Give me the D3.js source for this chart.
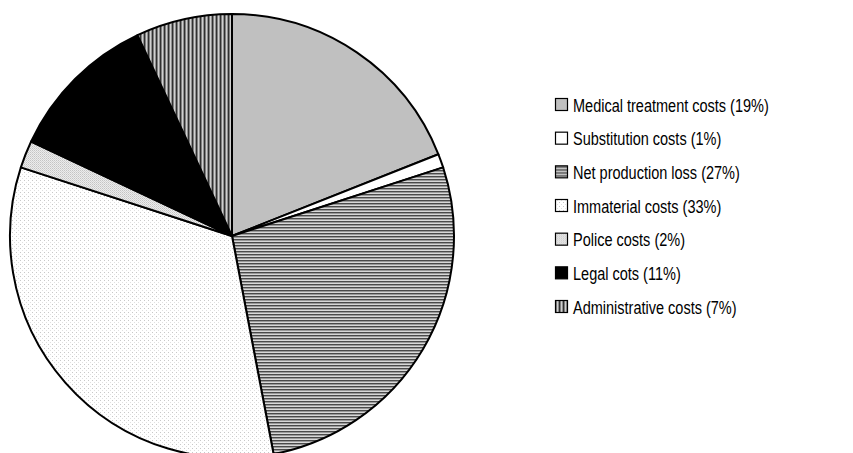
<!DOCTYPE html>
<html>
<head>
<meta charset="utf-8">
<script src="https://cdn.jsdelivr.net/npm/d3@7"></script>
<style>
  html, body { margin: 0; padding: 0; background: #fff; }
  svg { display: block; }
  .legend text { font-family: "Liberation Sans", Arial, sans-serif; font-size: 18.5px; fill: #000; }
</style>
</head>
<body>
<svg id="chart" width="853" height="453"></svg>
<script>
// Cost components, in percent of total cost
const categories = [
  "Medical treatment costs",
  "Substitution costs",
  "Net production loss",
  "Immaterial costs",
  "Police costs",
  "Legal cots",
  "Administrative costs"
];
const shares = [19, 1, 27, 33, 2, 11, 7];
const fillKeys = ["solidGray", "white", "hStripes", "sparseDots", "denseDots", "black", "vStripes"];

const width = 853, height = 453;
const cx = 232, cy = 236, radius = 222;

const svg = d3.select("#chart");
const defs = svg.append("defs");

// Fill patterns for the slices
function pattern(id, w, h, draw) {
  const p = defs.append("pattern")
    .attr("id", id).attr("patternUnits", "userSpaceOnUse")
    .attr("width", w).attr("height", h);
  draw(p);
}
pattern("hStripes", 8, 3, p => {
  p.append("rect").attr("width", 8).attr("height", 3).attr("fill", "#d8d8d8");
  p.append("rect").attr("y", 0).attr("width", 8).attr("height", 1).attr("fill", "#4a4a4a");
  p.append("rect").attr("y", 1).attr("width", 8).attr("height", 1).attr("fill", "#9a9a9a");
});
pattern("vStripes", 4, 8, p => {
  p.append("rect").attr("width", 4).attr("height", 8).attr("fill", "#d0d0d0");
  p.append("rect").attr("x", 0).attr("width", 1).attr("height", 8).attr("fill", "#303030");
  p.append("rect").attr("x", 1).attr("width", 1).attr("height", 8).attr("fill", "#808080");
  p.append("rect").attr("x", 3).attr("width", 1).attr("height", 8).attr("fill", "#909090");
});
pattern("sparseDots", 4, 4, p => {
  p.append("rect").attr("width", 4).attr("height", 4).attr("fill", "#fff");
  p.append("rect").attr("x", 0).attr("y", 0).attr("width", 1).attr("height", 1).attr("fill", "#c8c8c8");
  p.append("rect").attr("x", 2).attr("y", 2).attr("width", 1).attr("height", 1).attr("fill", "#e0e0e0");
});
pattern("denseDots", 2, 2, p => {
  p.append("rect").attr("width", 2).attr("height", 2).attr("fill", "#ececec");
  p.append("rect").attr("x", 0).attr("y", 0).attr("width", 1).attr("height", 1).attr("fill", "#c4c4c4");
  p.append("rect").attr("x", 1).attr("y", 1).attr("width", 1).attr("height", 1).attr("fill", "#d4d4d4");
});

const fillFor = key => ({
  solidGray: "#c0c0c0",
  white: "#ffffff",
  black: "#000000"
}[key] || `url(#${key})`);

const data = categories.map((c, i) => ({ name: c, value: shares[i], fill: fillFor(fillKeys[i]) }));

const pie = d3.pie().value(d => d.value).sort(null);
const arc = d3.arc().innerRadius(0).outerRadius(radius);

const g = svg.append("g").attr("transform", `translate(${cx},${cy})`);
g.selectAll("path")
  .data(pie(data))
  .join("path")
  .attr("d", arc)
  .attr("fill", d => d.data.fill)
  .attr("stroke", "#000")
  .attr("stroke-width", 2)
  .attr("stroke-linejoin", "round");

// Legend
const legendY = d3.scalePoint().domain(categories).range([105, 307]);
const legend = svg.append("g").attr("class", "legend");
const rows = legend.selectAll("g").data(data).join("g")
  .attr("transform", d => `translate(555,${legendY(d.name)})`);
rows.append("rect")
  .attr("x", 0.5).attr("y", -6.5).attr("width", 12).attr("height", 12)
  .attr("fill", d => d.fill)
  .attr("stroke", "#000").attr("stroke-width", 1.2);
const labels = rows.append("text")
  .attr("x", 0).attr("y", 0).attr("dy", "0.36em")
  .text(d => `${d.name} (${d.value}%)`);

// Condensed lettering: squeeze the regular face horizontally
const firstWidth = labels.node().getComputedTextLength();
const squeeze = 196 / firstWidth;
labels.attr("transform", `translate(18,0) scale(${squeeze},1)`);
</script>
</body>
</html>
